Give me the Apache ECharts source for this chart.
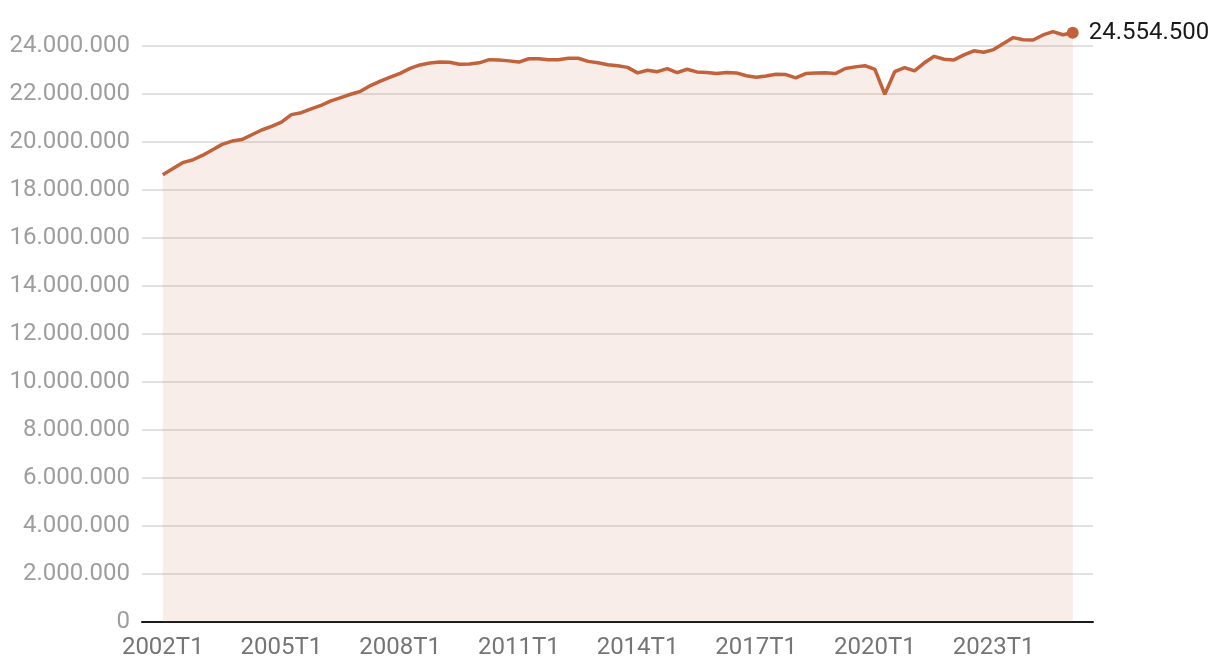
<!DOCTYPE html>
<html>
<head>
<meta charset="utf-8">
<style>
  html, body { margin: 0; padding: 0; background: #fff; }
  #chart { width: 1220px; height: 672px; }
</style>
<script src="https://cdn.jsdelivr.net/npm/echarts@6/dist/echarts.min.js"></script>
</head>
<body>
<div id="chart"></div>
<script>
// quarters 2002T1 .. 2025T1
const quarters = [];
for (let y = 2002; y <= 2025; y++) {
  for (let q = 1; q <= 4; q++) {
    if (y === 2025 && q > 1) break;
    quarters.push(y + 'T' + q);
  }
}

const values = [
  18640000, 18890000, 19140000, 19250000, 19440000, 19670000, 19900000, 20040000,
  20100000, 20300000, 20500000, 20650000, 20830000, 21140000, 21220000, 21380000,
  21530000, 21710000, 21850000, 21990000, 22110000, 22350000, 22540000, 22700000,
  22860000, 23070000, 23210000, 23290000, 23330000, 23320000, 23240000, 23250000,
  23300000, 23430000, 23420000, 23380000, 23330000, 23470000, 23470000, 23430000,
  23430000, 23490000, 23490000, 23360000, 23300000, 23220000, 23180000, 23110000,
  22880000, 22990000, 22930000, 23060000, 22890000, 23030000, 22920000, 22900000,
  22850000, 22900000, 22880000, 22760000, 22700000, 22750000, 22820000, 22810000,
  22670000, 22850000, 22880000, 22890000, 22850000, 23060000, 23130000, 23180000,
  23030000, 21990000, 22930000, 23100000, 22960000, 23300000, 23570000, 23450000,
  23420000, 23630000, 23800000, 23740000, 23850000, 24100000, 24350000, 24260000,
  24250000, 24460000, 24600000, 24470000, 24554500
];

// x-axis labels every 3 years
const xTickLabels = ['2002T1', '2005T1', '2008T1', '2011T1', '2014T1', '2017T1', '2020T1', '2023T1'];

const fmt = (v) => String(v).replace(/\B(?=(\d{3})+(?!\d))/g, '.');

const lineColor = '#c2623a';
const points = values.map((v, i) => [i, v]);
const lastIndex = values.length - 1;

const chart = echarts.init(document.getElementById('chart'));
chart.setOption({
  animation: false,
  grid: { left: 142, right: 127, top: 46, bottom: 50 },
  xAxis: {
    type: 'value',
    min: -2.1,
    max: 94.05,
    axisLine: { show: true, onZero: false, lineStyle: { color: '#1a1a1a', width: 2 } },
    axisTick: { show: false },
    splitLine: { show: false },
    axisLabel: {
      customValues: xTickLabels.map((l) => quarters.indexOf(l)),
      formatter: (v) => quarters[v],
      color: '#757575',
      fontSize: 24,
      fontFamily: 'Roboto',
      margin: 14
    }
  },
  yAxis: {
    type: 'value',
    min: 0,
    max: 24000000,
    interval: 2000000,
    axisLine: { show: false },
    axisTick: { show: false },
    axisLabel: {
      color: '#9e9e9e',
      fontSize: 24,
      fontFamily: 'Roboto',
      margin: 12,
      formatter: fmt
    },
    splitLine: { lineStyle: { color: '#e2e2e2', width: 2 } }
  },
  series: [
    {
      type: 'line',
      data: points,
      clip: false,
      showSymbol: false,
      lineStyle: { color: lineColor, width: 3.5 },
      areaStyle: { color: 'rgba(194, 98, 58, 0.16)' },
      z: 2
    },
    {
      type: 'scatter',
      data: [points[lastIndex]],
      clip: false,
      symbolSize: 12,
      itemStyle: { color: lineColor, opacity: 1 },
      label: {
        show: true,
        position: 'right',
        distance: 10,
        color: '#1a1a1a',
        fontSize: 24,
        fontFamily: 'Roboto',
        formatter: (p) => fmt(p.value[1])
      },
      z: 3
    }
  ]
});
</script>
</body>
</html>
